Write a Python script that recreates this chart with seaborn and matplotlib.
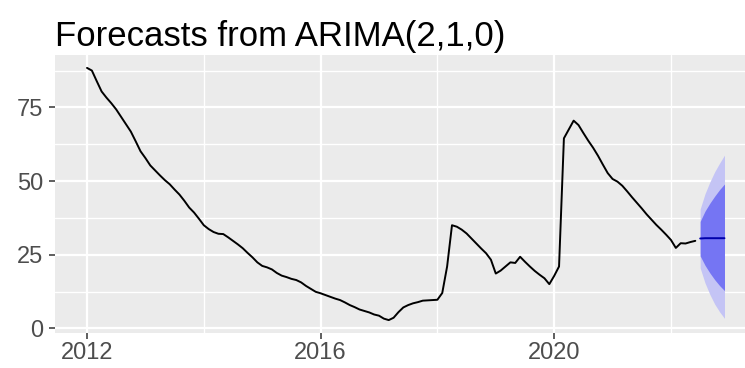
import numpy as np
import pandas as pd
import seaborn as sns
import matplotlib.pyplot as plt
from matplotlib.ticker import FixedLocator

# Monthly series, Jan 2012 - Jun 2022
y2012 = [88.4, 87.5, 83.9, 80.4, 78.3, 76.4, 74.3, 71.8, 69.3, 66.8, 63.5, 60.1]
y2013 = [57.8, 55.3, 53.6, 51.9, 50.3, 48.9, 47.1, 45.4, 43.3, 41.0, 39.3, 37.2]
y2014 = [35.0, 33.7, 32.7, 32.1, 32.0, 30.9, 29.7, 28.5, 27.2, 25.6, 24.1, 22.4]
y2015 = [21.2, 20.7, 20.0, 18.8, 17.9, 17.4, 16.8, 16.4, 15.6, 14.4, 13.4, 12.4]
y2016 = [11.9, 11.3, 10.7, 10.1, 9.6, 8.8, 7.9, 7.2, 6.4, 5.9, 5.4, 4.7]
y2017 = [4.3, 3.3, 2.8, 3.6, 5.5, 7.1, 7.9, 8.5, 8.9, 9.4, 9.5, 9.6]
y2018 = [9.7, 12.0, 21.0, 35.0, 34.5, 33.5, 32.2, 30.5, 28.8, 27.1, 25.5, 23.3]
y2019 = [18.6, 19.6, 21.0, 22.4, 22.2, 24.3, 22.6, 21.0, 19.5, 18.2, 17.0, 15.0]
y2020 = [17.8, 21.0, 64.5, 67.5, 70.5, 69.0, 66.3, 63.7, 61.3, 58.6, 55.6, 52.7]
y2021 = [50.7, 49.8, 48.4, 46.5, 44.5, 42.6, 40.7, 38.7, 36.9, 35.1, 33.5, 31.8]
y2022 = [30.0, 27.3, 28.9, 28.8, 29.3, 29.7]

# Forecast Jul 2022 - Dec 2022
fc_mean = [30.5, 30.6, 30.6, 30.6, 30.6, 30.6]
lo80 = [24.6, 21.4, 18.8, 16.5, 14.5, 12.8]
hi80 = [36.3, 39.8, 42.5, 44.9, 47.1, 49.0]
lo95 = [20.5, 15.4, 11.5, 8.2, 5.6, 3.4]
hi95 = [40.5, 45.7, 49.7, 53.2, 56.1, 58.8]

values = y2012 + y2013 + y2014 + y2015 + y2016 + y2017 + y2018 + y2019 + y2020 + y2021 + y2022
hist = pd.DataFrame({"time": 2012 + np.arange(len(values)) / 12, "value": values})
fc = pd.DataFrame({"time": 2012 + (len(values) + np.arange(6)) / 12,
                   "mean": fc_mean, "lo80": lo80, "hi80": hi80,
                   "lo95": lo95, "hi95": hi95})

sns.set_theme(style="darkgrid", rc={
    "axes.facecolor": "#EBEBEB",
    "grid.color": "white",
})
plt.rcParams["font.family"] = ["Liberation Sans", "DejaVu Sans"]

fig = plt.figure(figsize=(7.45, 3.68), dpi=100)
ax = fig.add_axes([0.074, 0.0959, 0.9413, 0.754])

sns.lineplot(data=hist, x="time", y="value", ax=ax, color="black", lw=1.4)
ax.fill_between(fc["time"], fc["lo95"], fc["hi95"], color="#C4C4F5", lw=0)
ax.fill_between(fc["time"], fc["lo80"], fc["hi80"], color="#7575F3", lw=0)
sns.lineplot(data=fc, x="time", y="mean", ax=ax, color="#0000AA", lw=1.4)

ax.set_xlim(2011.454, 2023.463)
ax.set_ylim(-1.48, 92.7)

ax.xaxis.set_major_locator(FixedLocator([2012, 2016, 2020]))
ax.xaxis.set_minor_locator(FixedLocator([2014, 2018, 2022]))
ax.yaxis.set_major_locator(FixedLocator([0, 25, 50, 75]))
ax.yaxis.set_minor_locator(FixedLocator([12.5, 37.5, 62.5, 87.5]))
ax.set_xticklabels(["2012", "2016", "2020"])
ax.set_yticklabels(["0", "25", "50", "75"])

ax.grid(which="major", color="white", lw=1.6)
ax.grid(which="minor", color="white", lw=1.0)
ax.tick_params(which="major", length=4, width=1.1, color="#333333",
               labelsize=17, labelcolor="#4D4D4D")
ax.tick_params(axis="x", which="major", pad=3, bottom=True)
ax.tick_params(axis="y", which="major", pad=4.5, left=True)
ax.tick_params(which="minor", length=0)
for s in ax.spines.values():
    s.set_visible(False)

ax.set_xlabel("")
ax.set_ylabel("")

fig.text(0.074, 1 - 46 / 368, "Forecasts from ARIMA(2,1,0)", fontsize=25,
         color="black", ha="left", va="baseline")

fig.savefig("out.png", dpi=100)
